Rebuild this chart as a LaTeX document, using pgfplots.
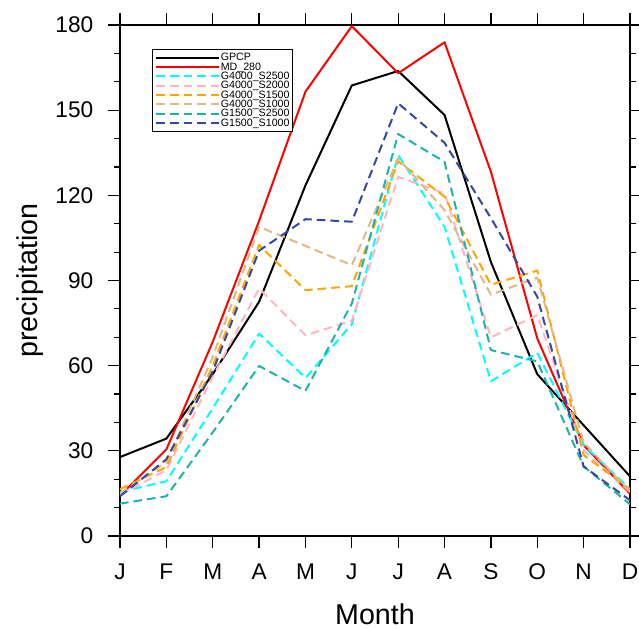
\documentclass[border=0pt]{standalone}
\usepackage{pgfplots}
\pgfplotsset{compat=1.18}
\usepackage{fontspec}
\setmainfont{Liberation Sans}
\usetikzlibrary{calc}
\definecolor{cCyan}{RGB}{0,255,255}
\definecolor{cPink}{RGB}{255,182,193}
\definecolor{cOrange}{RGB}{255,165,0}
\definecolor{cTan}{RGB}{222,184,135}
\definecolor{cTeal}{RGB}{32,178,170}
\definecolor{cBlue}{RGB}{52,72,158}
\begin{document}
\begin{tikzpicture}
\begin{axis}[
  name=ax,
  scale only axis,
  width=382.5pt, height=383.25pt,
  xmin=1, xmax=12, ymin=0, ymax=180,
  xtick={1,...,12},
  xticklabels={J,F,M,A,M,J,J,A,S,O,N,D},
  ytick={0,30,...,180},
  minor y tick num=2,
  tick align=outside,
  major tick length=9pt,
  minor tick length=4.5pt,
  every tick/.style={black, line width=0.9pt},
  axis line style={line width=1.5pt},
  /pgf/number format/assume math mode=true,
  tick label style={font=\fontsize{17}{17}\selectfont},
  xticklabel style={yshift=-8.5pt},
  yticklabel style={xshift=-7.5pt},
  label style={font=\fontsize{21.5}{21.5}\selectfont},
  xlabel={Month},
  ylabel={precipitation},
  xlabel style={at={(axis description cs:0.5,-0.154)}, anchor=center, inner sep=0pt},
  ylabel style={at={(axis description cs:-0.1765,0.5)}, anchor=center, rotate=0, inner sep=0pt},
  legend cell align=left,
  legend style={
    at={(0.0633,0.954)}, anchor=north west,
    draw=black, line width=0.75pt,
    font=\fontsize{8}{8}\selectfont,
    inner xsep=2pt, inner ysep=3pt,
    row sep=0pt,
    nodes={inner xsep=0.5pt, inner ysep=0pt, text height=5.8pt, text depth=1.2pt},
  },
  legend image code/.code={\draw[#1] (0pt,0pt) -- (47pt,0pt);},
  every axis plot/.append style={line width=1.5pt, line join=round},
]
\addplot[black] coordinates {(1,27.8)(2,34.3)(3,57)(4,82.5)(5,123.5)(6,158.7)(7,163.8)(8,148.3)(9,96.5)(10,57)(11,39)(12,21)};
\addlegendentry{GPCP}
\addplot[red] coordinates {(1,14.2)(2,30.5)(3,68.4)(4,111)(5,156.5)(6,179.6)(7,163)(8,173.9)(9,128.3)(10,69.6)(11,32)(12,14.9)};
\addlegendentry{MD\_280}
\addplot[cCyan, dash pattern=on 6.5pt off 3.75pt] coordinates {(1,15.5)(2,19.3)(3,45)(4,71.3)(5,55.7)(6,74.6)(7,134.2)(8,108.9)(9,54.5)(10,64.5)(11,32)(12,16.5)};
\addlegendentry{G4000\_S2500}
\addplot[cPink, dash pattern=on 6.5pt off 3.75pt] coordinates {(1,14.5)(2,23.2)(3,56)(4,87.2)(5,70.7)(6,75.8)(7,126.5)(8,120.7)(9,70)(10,77.8)(11,30.2)(12,15.5)};
\addlegendentry{G4000\_S2000}
\addplot[cOrange, dash pattern=on 6.5pt off 3.75pt] coordinates {(1,16.5)(2,24.3)(3,60)(4,102.5)(5,86.6)(6,88)(7,132)(8,119.5)(9,88.5)(10,93.5)(11,28.5)(12,16.5)};
\addlegendentry{G4000\_S1500}
\addplot[cTan, dash pattern=on 6.5pt off 3.75pt] coordinates {(1,15)(2,26)(3,63)(4,108.9)(5,102.2)(6,95.4)(7,133)(8,114.8)(9,85)(10,91)(11,33)(12,15.5)};
\addlegendentry{G4000\_S1000}
\addplot[cTeal, dash pattern=on 6.5pt off 3.75pt] coordinates {(1,11.4)(2,14)(3,36.5)(4,59.9)(5,51.1)(6,81.9)(7,141.6)(8,131.8)(9,65.5)(10,61.5)(11,24.5)(12,11.2)};
\addlegendentry{G1500\_S2500}
\addplot[cBlue, dash pattern=on 6.5pt off 3.75pt] coordinates {(1,14)(2,27)(3,58)(4,100.5)(5,111.6)(6,110.7)(7,152.4)(8,138.5)(9,112)(10,84.3)(11,24.5)(12,12.6)};
\addlegendentry{G1500\_S1000}
\end{axis}
\pgfresetboundingbox
\path ($(ax.south west)+(-90pt,-69.75pt)$) rectangle ($(ax.north east)+(6.75pt,18.75pt)$);
\end{tikzpicture}
\end{document}
